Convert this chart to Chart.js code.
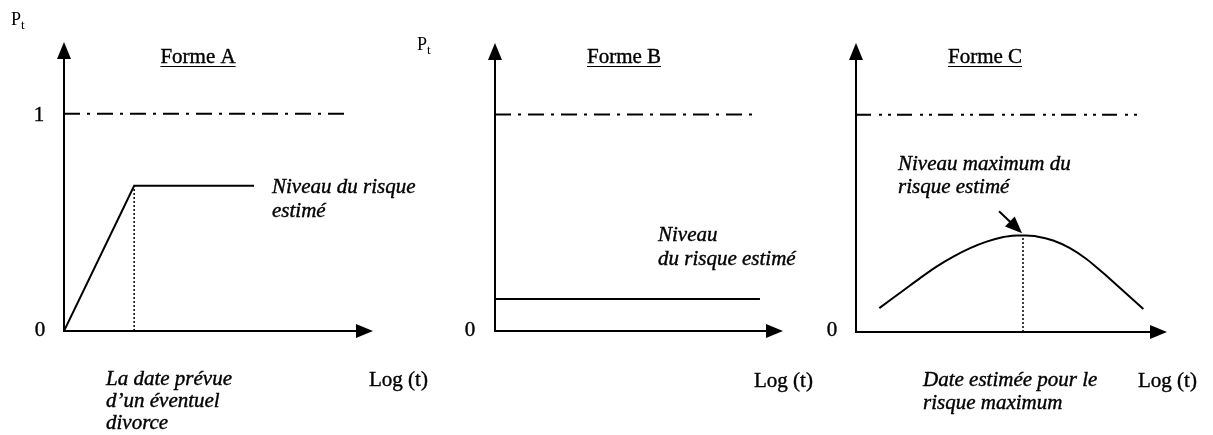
<!DOCTYPE html>
<html>
<head>
<meta charset="utf-8">
<script src="https://cdn.jsdelivr.net/npm/chart.js@4/dist/chart.umd.min.js"></script>
<style>
  body { margin: 0; background: #fff; }
  #wrap { position: relative; width: 1213px; height: 435px; overflow: hidden; }
  canvas { position: absolute; top: 0; left: 0; }
</style>
</head>
<body>
<div id="wrap">
  <canvas id="chartA" width="1213" height="435"></canvas>
  <canvas id="chartB" width="1213" height="435"></canvas>
  <canvas id="chartC" width="1213" height="435"></canvas>
</div>
<script>
// ---------- données ----------
const refLevel = 1;

// Forme A : montée linéaire puis palier
const formeA_x = [0, 22.7, 61.5];
const formeA_y = [0, 0.668, 0.668];
const formeA_refEnd = 91.6;
const formeA_date = 22.7;

// Forme B : niveau constant
const formeB_x = [0, 92];
const formeB_y = [0.148, 0.148];
const formeB_refEnd = 91.3;

// Forme C : courbe en cloche
const formeC_x = [7.5, 15.2, 20.6, 25.9, 31.3, 36.7, 42.0, 47.4, 51.7, 53.8, 58.1, 63.4, 68.8, 74.2, 79.5, 84.9, 92.4];
const formeC_y = [0.110, 0.191, 0.248, 0.301, 0.347, 0.386, 0.416, 0.437, 0.444, 0.444, 0.440, 0.421, 0.386, 0.335, 0.271, 0.202, 0.106];
const formeC_refEnd = 90.4;
const formeC_peak = 53.7;
const formeC_peakY = 0.444;

const serif = '"Liberation Serif", "Times New Roman", serif';

function pts(xs, ys) { return xs.map((x, i) => ({ x: x, y: ys[i] })); }

// ---------- plugin : axes flèches + textes ----------
const axesPlugin = {
    id: 'axesText',
    afterDraw(chart, args, opts) {
        const ctx = chart.ctx;
        const xs = chart.scales.x, ys = chart.scales.y;
        const x0 = xs.getPixelForValue(0), y0 = ys.getPixelForValue(0);
        const top = chart.chartArea.top, right = chart.chartArea.right;
        ctx.save();
        ctx.strokeStyle = '#000';
        ctx.fillStyle = '#000';
        ctx.lineWidth = 2;
        // axe vertical
        ctx.beginPath();
        ctx.moveTo(x0, y0 + 1); ctx.lineTo(x0, top + 12);
        ctx.stroke();
        ctx.beginPath();
        ctx.moveTo(x0, top); ctx.lineTo(x0 - 7, top + 17); ctx.lineTo(x0 + 7, top + 17); ctx.closePath();
        ctx.fill();
        // axe horizontal
        ctx.beginPath();
        ctx.moveTo(x0 - 1, y0); ctx.lineTo(right - 12, y0);
        ctx.stroke();
        ctx.beginPath();
        ctx.moveTo(right, y0); ctx.lineTo(right - 17, y0 - 7); ctx.lineTo(right - 17, y0 + 7); ctx.closePath();
        ctx.fill();

        // flèche d'annotation
        if (opts.pointer) {
            const p = opts.pointer;
            const ax = xs.getPixelForValue(p.from[0]), ay = ys.getPixelForValue(p.from[1]);
            const bx = xs.getPixelForValue(p.to[0]), by = ys.getPixelForValue(p.to[1]);
            const c = Math.cos(Math.atan2(by - ay, bx - ax)), s = Math.sin(Math.atan2(by - ay, bx - ax));
            ctx.lineWidth = 2;
            ctx.beginPath();
            ctx.moveTo(ax, ay); ctx.lineTo(bx - 12 * c, by - 12 * s);
            ctx.stroke();
            ctx.beginPath();
            ctx.moveTo(bx, by);
            ctx.lineTo(bx - 17 * c + 7 * s, by - 17 * s - 7 * c);
            ctx.lineTo(bx - 17 * c - 7 * s, by - 17 * s + 7 * c);
            ctx.closePath();
            ctx.fill();
        }

        // textes
        ctx.textBaseline = 'alphabetic';
        (opts.texts || []).forEach(t => {
            ctx.font = (t.italic ? 'italic ' : '') + (t.size || 21) + 'px ' + serif;
            ctx.textAlign = t.align || 'left';
            ctx.fillText(t.text, t.x, t.y);
            ctx.lineWidth = 0.4;
            ctx.strokeText(t.text, t.x, t.y);
            if (t.underline) {
                const w = ctx.measureText(t.text).width;
                const sx = t.align === 'center' ? t.x - w / 2 : t.x;
                ctx.lineWidth = 1;
                ctx.beginPath();
                ctx.moveTo(sx, t.y + 3.5); ctx.lineTo(sx + w, t.y + 3.5);
                ctx.stroke();
            }
        });
        // P_t
        if (opts.pt) {
            ctx.textAlign = 'left';
            ctx.font = '18px ' + serif;
            ctx.fillText('P', opts.pt.x, opts.pt.y);
            const w = ctx.measureText('P').width;
            ctx.font = '13px ' + serif;
            ctx.fillText('t', opts.pt.x + w, opts.pt.y + 4);
        }
        ctx.restore();
    }
};

function makePanel(id, padding, datasets, plugOpts) {
    return new Chart(document.getElementById(id), {
        type: 'line',
        data: { datasets: datasets },
        options: {
            responsive: false,
            animation: false,
            layout: { padding: padding },
            plugins: { legend: { display: false }, tooltip: { enabled: false }, axesText: plugOpts },
            elements: { point: { radius: 0 } },
            scales: {
                x: { type: 'linear', display: false, min: 0, max: 100 },
                y: { type: 'linear', display: false, min: 0, max: 1.33 }
            }
        },
        plugins: [axesPlugin]
    });
}

function refLine(end, dash) {
    return { data: pts([0, end], [refLevel, refLevel]), borderColor: '#000', borderWidth: 2, borderDash: dash };
}
function dottedLine(x, y) {
    return { data: pts([x, x], [0, y]), borderColor: '#000', borderWidth: 1.5, borderDash: [2, 2] };
}

// ---------- Forme A ----------
makePanel('chartA', { left: 64, right: 840, top: 42, bottom: 104 }, [
    refLine(formeA_refEnd, [16, 7, 3, 7]),
    dottedLine(formeA_date, formeA_y[1]),
    { data: pts(formeA_x, formeA_y), borderColor: '#000', borderWidth: 2, tension: 0 }
], {
    pt: { x: 11, y: 25 },
    texts: [
        { text: '1', x: 39, y: 121, align: 'center' },
        { text: '0', x: 40, y: 336, align: 'center' },
        { text: 'Forme A', x: 198, y: 63, align: 'center', underline: true },
        { text: 'Niveau du risque', x: 272, y: 193, italic: true },
        { text: 'estimé', x: 272, y: 217, italic: true },
        { text: 'La date prévue', x: 106, y: 385, italic: true },
        { text: 'd\u2019un éventuel', x: 106, y: 407, italic: true },
        { text: 'divorce', x: 106, y: 429, italic: true },
        { text: 'Log (t)', x: 369, y: 386 }
    ]
});

// ---------- Forme B ----------
makePanel('chartB', { left: 495, right: 430, top: 43, bottom: 104 }, [
    refLine(formeB_refEnd, [16, 7, 3, 7]),
    { data: pts(formeB_x, formeB_y), borderColor: '#000', borderWidth: 2 }
], {
    pt: { x: 417, y: 50 },
    texts: [
        { text: '0', x: 470, y: 336, align: 'center' },
        { text: 'Forme B', x: 624, y: 63, align: 'center', underline: true },
        { text: 'Niveau', x: 658, y: 241, italic: true },
        { text: 'du risque estimé', x: 658, y: 265, italic: true },
        { text: 'Log (t)', x: 754, y: 387 }
    ]
});

// ---------- Forme C ----------
makePanel('chartC', { left: 856, right: 46, top: 43, bottom: 103 }, [
    refLine(formeC_refEnd, [15, 8, 3, 6, 3, 6]),
    dottedLine(formeC_peak, formeC_peakY),
    { data: pts(formeC_x, formeC_y), borderColor: '#000', borderWidth: 2, tension: 0.3 }
], {
    pointer: { from: [46.0, 0.556], to: [53.4, 0.454] },
    texts: [
        { text: '0', x: 832, y: 336, align: 'center' },
        { text: 'Forme C', x: 985, y: 63, align: 'center', underline: true },
        { text: 'Niveau maximum du', x: 898, y: 170, italic: true },
        { text: 'risque estimé', x: 898, y: 193, italic: true },
        { text: 'Date estimée pour le', x: 923, y: 386, italic: true },
        { text: 'risque maximum', x: 923, y: 409, italic: true },
        { text: 'Log (t)', x: 1138, y: 387 }
    ]
});
</script>
</body>
</html>
